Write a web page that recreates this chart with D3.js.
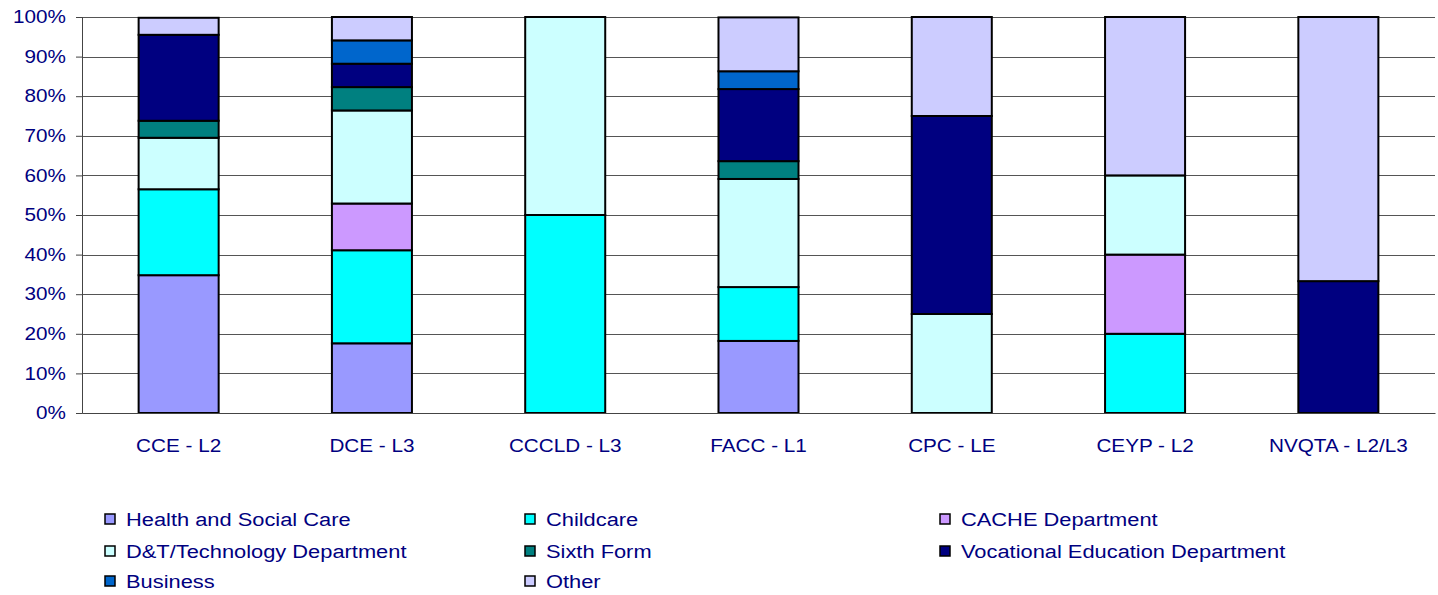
<!DOCTYPE html>
<meta charset="utf-8">
<style>
body{
    margin:0;
    background:#fff;
    font-family: "Liberation Sans", Arial, sans-serif;
}
.tick text, .legend text{
    fill:#000080;
}
</style>
<svg width="1438" height="595"></svg>
<script src="https://d3js.org/d3.v7.min.js"></script>
<script>

// courses on the x axis
var courses = ['CCE - L2', 'DCE - L3', 'CCCLD - L3', 'FACC - L1', 'CPC - LE', 'CEYP - L2', 'NVQTA - L2/L3'];

// departments (stack order, bottom to top)
var departments = ['Health and Social Care', 'Childcare', 'CACHE Department', 'D&T/Technology Department',
    'Sixth Form', 'Vocational Education Department', 'Business', 'Other'];

// percentage share per course, one array per department
var healthSocial = [34.8, 17.6, 0, 18.2, 0, 0, 0];
var childcare    = [21.7, 23.5, 50, 13.6, 0, 20, 0];
var cache        = [0, 11.8, 0, 0, 0, 20, 0];
var dtTech       = [13.0, 23.5, 50, 27.3, 25, 20, 0];
var sixthForm    = [4.3, 5.9, 0, 4.5, 0, 0, 0];
var vocational   = [21.7, 5.9, 0, 18.2, 50, 0, 33.3];
var business     = [0, 5.9, 0, 4.5, 0, 0, 0];
var other        = [4.3, 5.9, 0, 13.6, 25, 40, 66.7];

var yTicks = [0, 10, 20, 30, 40, 50, 60, 70, 80, 90, 100];

var colour = ['#9999ff', '#00ffff', '#cc99ff', '#ccffff', '#008080', '#000080', '#0066cc', '#ccccff'];

var series = [healthSocial, childcare, cache, dtTech, sixthForm, vocational, business, other];

var rows = courses.map(function(c, i){
    var row = {course: c};
    departments.forEach(function(d, j){ row[d] = series[j][i]; });
    return row;
});

var svg = d3.select('svg');
var margin = {top:17, left:82, right:3, bottom:182};
var width = 1438 - margin.left - margin.right;
var height = 595 - margin.top - margin.bottom;
var stretch = 'scale(1.15,1)';   // the original text is drawn a bit wide

var g = svg.append('g').attr('transform', 'translate(' + margin.left + ',' + margin.top + ')');

var x = d3.scaleBand()
    .domain(courses)
    .range([0, width])
    .paddingInner(0.586)
    .paddingOuter(0.293);

var y = d3.scaleLinear()
    .domain([0, 100])
    .range([height, 0]);

// gridlines
g.append('g')
    .selectAll('line')
    .data(yTicks.slice(1))
    .enter()
    .append('line')
        .attr('x1', 0)
        .attr('x2', width)
        .attr('y1', function(d){ return Math.round(y(d)) + 0.5; })
        .attr('y2', function(d){ return Math.round(y(d)) + 0.5; })
        .attr('stroke', '#555')
        .attr('stroke-width', 1);

var stack = d3.stack().keys(departments);
var stacked = stack(rows);

g.selectAll('g.layer')
    .data(stacked)
    .enter()
    .append('g')
        .attr('class', 'layer')
        .attr('fill', function(d, i){ return colour[i]; })
    .selectAll('rect')
    .data(function(d){ return d.filter(function(p){ return p[1] - p[0] > 0; }); })
    .enter()
    .append('rect')
        .attr('x', function(d){ return x(d.data.course); })
        .attr('width', x.bandwidth())
        .attr('y', function(d){ return y(d[1]); })
        .attr('height', function(d){ return y(d[0]) - y(d[1]); })
        .attr('stroke', '#000')
        .attr('stroke-width', 2);

// y axis
var yAxis = g.append('g')
    .call(d3.axisLeft(y).tickValues(yTicks).tickFormat(function(d){ return d + '%'; }).tickSize(6).tickPadding(8));
yAxis.select('.domain').attr('stroke', '#444');
yAxis.selectAll('.tick line').attr('stroke', '#444');
yAxis.selectAll('text')
    .attr('font-size', 18)
    .attr('font-family', '"Liberation Sans", Arial, sans-serif')
    .attr('transform', stretch);

// x axis
var xAxis = g.append('g')
    .attr('transform', 'translate(0,' + height + ')')
    .call(d3.axisBottom(x).tickSize(0).tickPadding(26));
xAxis.select('.domain').attr('stroke', '#444');
xAxis.selectAll('text')
    .attr('font-size', 18)
    .attr('font-family', '"Liberation Sans", Arial, sans-serif')
    .attr('transform', stretch);

// legend
var legendCols = [105, 525, 940];
var legendRows = [519, 551, 581];
var legend = svg.append('g').attr('class', 'legend');
departments.forEach(function(d, i){
    var lx = legendCols[i % 3];
    var ly = legendRows[Math.floor(i / 3)];
    var item = legend.append('g').attr('transform', 'translate(' + lx + ',' + ly + ')');
    item.append('rect')
        .attr('x', 0).attr('y', -5)
        .attr('width', 10).attr('height', 10)
        .attr('fill', colour[i])
        .attr('stroke', '#000')
        .attr('stroke-width', 1.5);
    item.append('text')
        .attr('x', 21)
        .attr('y', 0)
        .attr('dy', '0.35em')
        .attr('font-size', 19)
        .attr('transform', 'translate(21,0) ' + stretch + ' translate(-21,0)')
        .text(d);
});

</script>
